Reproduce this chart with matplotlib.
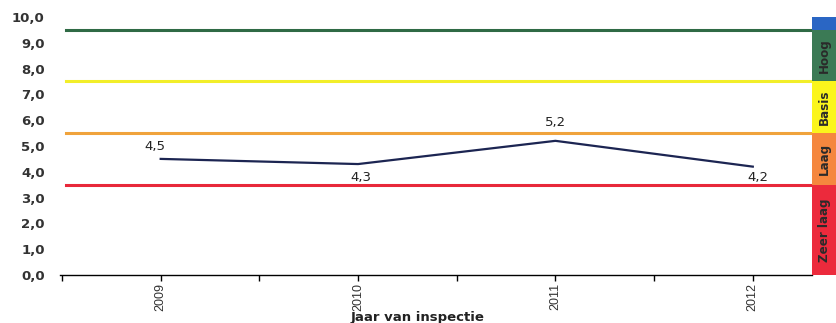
import matplotlib.pyplot as plt
from matplotlib.ticker import FixedLocator, FuncFormatter

# Inspection scores per year
years = [2009, 2010, 2011, 2012]
scores = [4.5, 4.3, 5.2, 4.2]

# Level boundaries and the band labels on the right
level_lines = [9.5, 7.5, 5.5, 3.5]
line_colors = ['#2f6a45', '#f2ee2a', '#f0a33c', '#e8283a']
band_edges = [10.0, 9.5, 7.5, 5.5, 3.5, 0.0]
band_colors = ['#2a66c4', '#3b7a55', '#fbf51c', '#f5873e', '#ec2a3c']
band_labels = ['', 'Hoog', 'Basis', 'Laag', 'Zeer laag']

label_offsets = [(-4, 9), (2, -10), (0, 13), (4, -8)]

narrow = ['DejaVu Sans Condensed', 'DejaVu Sans']

fig = plt.figure(figsize=(8.36, 3.23), dpi=100)
ax = fig.add_axes([0.0718, 0.1486, 0.8995, 0.7988])

for yv, c in zip(level_lines, line_colors):
    ax.axhline(yv, xmin=0.008, xmax=1.0, color=c, linewidth=2.2, zorder=1)

ax.plot(years, scores, color='#1c2552', linewidth=1.6, zorder=3)
for x, y, (dx, dy) in zip(years, scores, label_offsets):
    ax.annotate(f'{y:.1f}'.replace('.', ','), (x, y), xytext=(dx, dy),
                textcoords='offset points', ha='center', va='center',
                fontsize=9.5, color='#222222')

ax.set_xlim(2008.49, 2012.3)
ax.set_ylim(0, 10)
ax.set_yticks([i for i in range(11)])
ax.yaxis.set_major_formatter(FuncFormatter(lambda v, p: f'{v:.1f}'.replace('.', ',')))
ax.set_xticks(years)
ax.xaxis.set_minor_locator(FixedLocator([2008.5, 2009.5, 2010.5, 2011.5]))
ax.set_xticklabels([str(y) for y in years], rotation=90,
                   family=['Liberation Sans', 'DejaVu Sans'], fontsize=9, color='#333333')

for s in ['top', 'right', 'left']:
    ax.spines[s].set_visible(False)
ax.spines['bottom'].set_linewidth(1.0)
ax.tick_params(axis='y', length=0, pad=11, labelsize=9.5, labelcolor='#333333')
ax.tick_params(axis='x', which='both', length=4, width=1, direction='out')
ax.tick_params(axis='x', which='major', pad=2)
for lbl in ax.get_yticklabels():
    lbl.set_fontweight('semibold')

fig.text(0.5, -0.004, 'Jaar van inspectie', ha='center', va='bottom',
         fontsize=9.5, fontweight='bold', color='#222222')

# Coloured band scale on the right edge
bax = fig.add_axes([0.9713, 0.1486, 0.0287, 0.7988])
bax.set_xlim(0, 1)
bax.set_ylim(0, 10)
for top, bottom, c, name in zip(band_edges[:-1], band_edges[1:], band_colors, band_labels):
    bax.axhspan(bottom, top, color=c, linewidth=0)
    if name:
        bax.text(0.5, (top + bottom) / 2, name, rotation=90, ha='center', va='center',
                 fontsize=9.5, fontweight='bold', color='#2a2a2a',
                 family=narrow, stretch='condensed')
bax.axis('off')

fig.savefig('out.png', dpi=100)
